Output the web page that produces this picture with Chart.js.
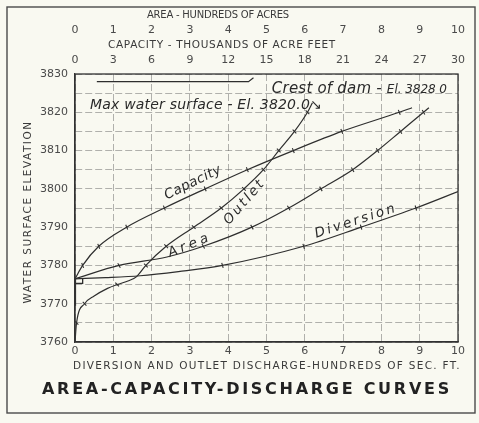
<!DOCTYPE html>
<html><head><meta charset="utf-8">
<script src="https://cdn.jsdelivr.net/npm/chart.js@4.4.0/dist/chart.umd.min.js"></script>
<style>
html,body{margin:0;padding:0;background:#f9f9f1;}
canvas{display:block;}
</style></head><body>
<canvas id="c" width="479" height="423"></canvas>
<script>
// ---- data ----
const elevationTicks = [3760, 3770, 3780, 3790, 3800, 3810, 3820, 3830];
const dischargeTicks = [0, 1, 2, 3, 4, 5, 6, 7, 8, 9, 10];
const areaTicks = [0, 1, 2, 3, 4, 5, 6, 7, 8, 9, 10];
const capacityTicks = [0, 3, 6, 9, 12, 15, 18, 21, 24, 27, 30];

const capacityElev = [3776.5, 3780, 3785, 3790, 3795, 3800, 3805, 3810, 3815, 3820, 3821.2];
const capacityKAF  = [0, 0.6, 1.86, 4.05, 7.0, 10.2, 13.5, 17.1, 20.9, 25.4, 26.4];

const areaElev = [3776.5, 3780, 3782.2, 3785, 3790, 3795, 3800, 3805, 3810, 3815, 3820, 3821.2];
const areaHundredAcres = [0, 1.15, 2.4, 3.35, 4.62, 5.58, 6.42, 7.25, 7.9, 8.5, 9.1, 9.24];

const outletElev = [3760, 3765, 3770, 3772, 3774, 3775, 3776, 3777, 3780, 3785, 3790, 3795, 3800, 3805, 3810, 3815, 3820, 3822.5];
const outletQ    = [0, 0.04, 0.25, 0.5, 0.85, 1.1, 1.4, 1.6, 1.85, 2.38, 3.1, 3.82, 4.41, 4.92, 5.32, 5.73, 6.07, 6.2];

const diversionElev = [3776.5, 3776.8, 3777.3, 3778.4, 3780, 3785, 3790, 3795, 3799.3];
const diversionQ    = [0, 0.8, 1.7, 2.7, 3.85, 5.97, 7.47, 8.9, 10];

const crestElev = [3828, 3828, 3829];
const crestX    = [0.57, 4.53, 4.66];
const notchElev = [3775.3, 3775.3, 3776.5];
const notchX    = [0, 0.2, 0.2];
const stemElev  = [3769.5, 3776.5];
const stemX     = [0, 0];

// ---- build ----
const INK = '#2e2e2e';
const pts = (xs, ys) => xs.map((v, i) => ({x: v, y: ys[i]}));
const tickR = ys => ys.map(e => (e % 5 === 0 && e > 3761) ? 2.6 : 0);

function curve(label, xs, ys, axis, rot) {
  return {
    label, data: pts(xs, ys), xAxisID: axis, yAxisID: 'y',
    showLine: true, borderColor: INK, borderWidth: 1.2, fill: false,
    cubicInterpolationMode: 'monotone',
    pointStyle: 'line', pointRadius: tickR(ys), pointRotation: rot,
    pointBorderColor: INK, pointBorderWidth: 1.1, pointHoverRadius: 0
  };
}
function seg(label, xs, ys, w) {
  return {
    label, data: pts(xs, ys), xAxisID: 'x', yAxisID: 'y', showLine: true,
    borderColor: INK, borderWidth: w, tension: 0, pointRadius: 0, fill: false
  };
}

const TICK_FONT = {family: 'DejaVu Sans', size: 11};
const TICK_COLOR = '#4a4a4a';

// draw text so that it spans targetW pixels; x is the centre (or left edge when left=true)
function spaced(ctx, text, x, y, targetW, left) {
  ctx.letterSpacing = '0px';
  const w = ctx.measureText(text).width;
  const sp = (targetW - w) / text.length;
  ctx.letterSpacing = sp.toFixed(2) + 'px';
  ctx.textAlign = 'left';
  ctx.fillText(text, left ? x : x - targetW / 2, y);
  ctx.letterSpacing = '0px';
}

const decor = {
  id: 'decor',
  beforeDraw(chart) {
    const ctx = chart.ctx;
    ctx.save();
    ctx.fillStyle = '#f9f9f1';
    ctx.fillRect(0, 0, chart.width, chart.height);
    ctx.strokeStyle = '#4a4a4a';
    ctx.lineWidth = 1.4;
    ctx.strokeRect(7, 7, chart.width - 11, chart.height - 17);
    ctx.restore();
  },
  afterDatasetsDraw(chart) {
    const ctx = chart.ctx, a = chart.chartArea;
    const sx = chart.scales.x, sy = chart.scales.y;
    ctx.save();
    ctx.strokeStyle = '#333';
    ctx.lineWidth = 1.3;
    ctx.strokeRect(a.left, a.top, a.right - a.left, a.bottom - a.top);

    ctx.fillStyle = '#3a3a3a';
    ctx.textBaseline = 'middle';
    // axis titles
    ctx.font = '10px "DejaVu Sans"';
    spaced(ctx, 'AREA - HUNDREDS OF ACRES', a.left + 143, 15, 142);
    ctx.font = '10.5px "DejaVu Sans"';
    spaced(ctx, 'CAPACITY - THOUSANDS OF ACRE FEET', a.left + 147, 45, 228);
    spaced(ctx, 'DIVERSION AND OUTLET DISCHARGE-HUNDREDS OF SEC. FT.', a.left + 192, 366, 388);
    ctx.save();
    ctx.translate(28, (a.top + a.bottom) / 2 + 4);
    ctx.rotate(-Math.PI / 2);
    spaced(ctx, 'WATER SURFACE ELEVATION', 0, 0, 183);
    ctx.restore();
    ctx.fillStyle = '#222';
    ctx.font = 'bold 16px "DejaVu Sans"';
    spaced(ctx, 'AREA-CAPACITY-DISCHARGE CURVES', a.left + 172, 390, 410);

    // annotations in data coordinates
    ctx.fillStyle = '#2a2a2a';
    ctx.textBaseline = 'alphabetic';
    ctx.font = 'italic 14px "DejaVu Sans"';
    const mx = sx.getPixelForValue(0.39), my = sy.getPixelForValue(3820) - 3;
    spaced(ctx, 'Max water surface - El. 3820.0\u2198', mx, my, 232, true);
    const cx = sx.getPixelForValue(5.14), cy = sy.getPixelForValue(3826.6) + 6;
    ctx.font = 'italic 15px "DejaVu Sans"';
    spaced(ctx, 'Crest of dam -', cx, cy, 110, true);
    ctx.font = 'italic 12px "DejaVu Sans"';
    spaced(ctx, 'El. 3828 0', cx + 115, cy, 60, true);

    const labels = [
      ['Capacity', 3.08, 3801.6, -26, 62],
      ['Outlet', 4.43, 3796.6, -49, 56],
      ['Area', 3.0, 3785.3, -22, 46],
      ['Diversion', 7.34, 3791.6, -18, 86]
    ];
    ctx.font = 'italic 13.5px "DejaVu Sans"';
    ctx.textBaseline = 'middle';
    for (const [t, x, y, ang, w] of labels) {
      ctx.save();
      ctx.translate(sx.getPixelForValue(x), sy.getPixelForValue(y));
      ctx.rotate(ang * Math.PI / 180);
      spaced(ctx, t, 0, 0, w);
      ctx.restore();
    }
    ctx.restore();
  }
};

const gridCommon = {color: 'rgba(70,70,70,0.45)', lineWidth: 0.9, drawTicks: false};

new Chart(document.getElementById('c'), {
  type: 'scatter',
  data: {
    datasets: [
      curve('Capacity', capacityKAF, capacityElev, 'x3', 68),
      curve('Area', areaHundredAcres, areaElev, 'x2', 60),
      curve('Outlet', outletQ, outletElev, 'x', 45),
      curve('Diversion', diversionQ, diversionElev, 'x', 74),
      seg('Crest', crestX, crestElev, 1.2),
      seg('Notch', notchX, notchElev, 1.3),
      seg('Stem', stemX, stemElev, 2.2)
    ]
  },
  options: {
    responsive: false,
    animation: false,
    devicePixelRatio: 1,
    layout: {padding: {top: 8, left: 14, right: 21, bottom: 41}},
    plugins: {legend: {display: false}, tooltip: {enabled: false}, title: {display: false}},
    events: [],
    scales: {
      x: {
        type: 'linear', position: 'bottom', min: 0, max: 10,
        afterBuildTicks: s => { s.ticks = dischargeTicks.map(v => ({value: v})); },
        afterFit: s => { s.height = 40; },
        ticks: {font: TICK_FONT, color: TICK_COLOR, padding: 3, autoSkip: false, maxRotation: 0},
        grid: gridCommon,
        border: {display: true, color: '#333', width: 1.2, dash: [7, 3]}
      },
      x2: {
        type: 'linear', position: 'top', weight: 1, min: 0, max: 10,
        afterBuildTicks: s => { s.ticks = areaTicks.map(v => ({value: v})); },
        afterFit: s => { s.height = 30; },
        ticks: {font: TICK_FONT, color: TICK_COLOR, padding: 1, autoSkip: false, maxRotation: 0},
        grid: {display: false, drawTicks: false},
        border: {display: false}
      },
      x3: {
        type: 'linear', position: 'top', weight: 0, min: 0, max: 30,
        afterBuildTicks: s => { s.ticks = capacityTicks.map(v => ({value: v})); },
        afterFit: s => { s.height = 36; },
        ticks: {font: TICK_FONT, color: TICK_COLOR, padding: 7, autoSkip: false, maxRotation: 0},
        grid: {display: false, drawTicks: false},
        border: {display: false}
      },
      y: {
        type: 'linear', position: 'left', min: 3760, max: 3830,
        afterBuildTicks: s => {
          const t = [];
          for (let v = 3760; v <= 3830; v += 5) t.push({value: v});
          s.ticks = t;
        },
        afterFit: s => { s.width = 61; },
        ticks: {
          font: TICK_FONT, color: TICK_COLOR, padding: 7, autoSkip: false,
          callback: v => elevationTicks.includes(v) ? String(v) : ''
        },
        grid: gridCommon,
        border: {display: true, color: '#333', width: 1.2, dash: [7, 3]}
      }
    }
  },
  plugins: [decor]
});
</script>
</body></html>
